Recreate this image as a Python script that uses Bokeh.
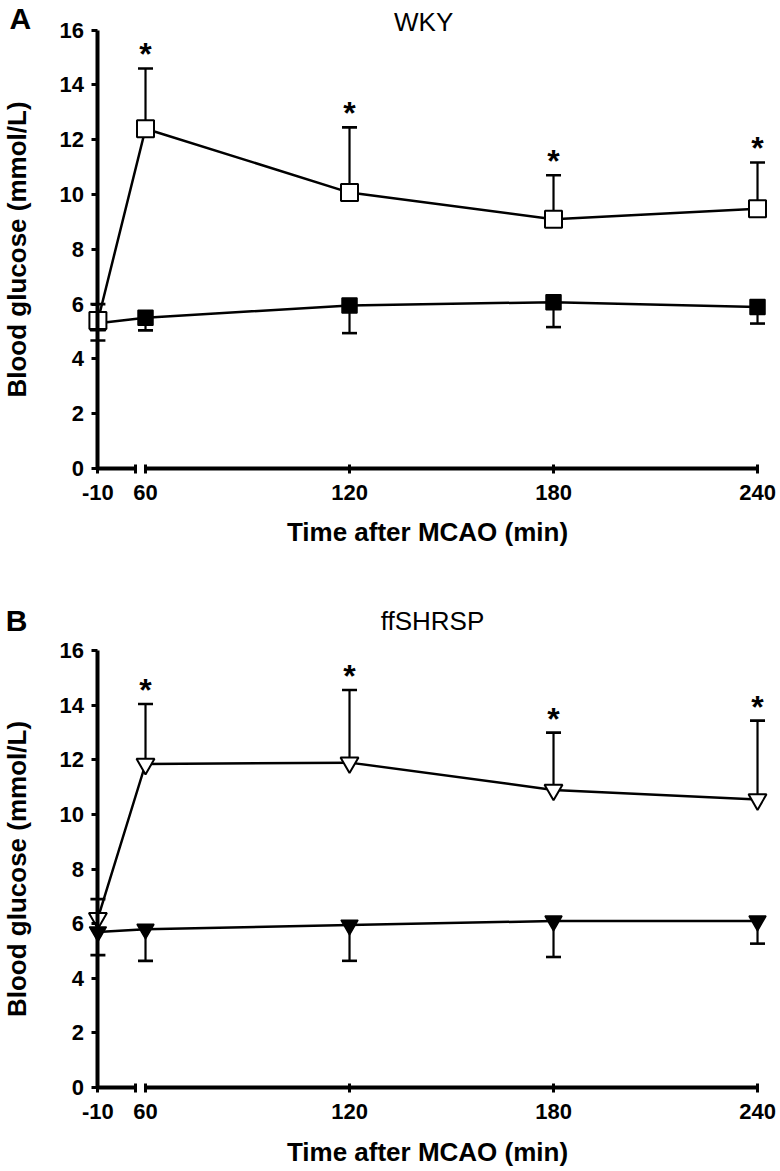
from bokeh.plotting import figure
from bokeh.models import Range1d, LinearAxis, FixedTicker, Label
from bokeh.layouts import column
from bokeh.embed import file_html
from bokeh.resources import INLINE
from bokeh.core.properties import value

# ---------------- data ----------------
TIMES = [-10, 60, 120, 180, 240]
TICK_LABELS = ["-10", "60", "120", "180", "240"]
Y_TICKS = [0, 2, 4, 6, 8, 10, 12, 14, 16]
SIG = ["", "*", "*", "*", "*"]

# Panel A: WKY  (open = upper series, filled = lower series)
WKY_OPEN_MEAN = [5.4, 12.4, 10.07, 9.1, 9.48]
WKY_OPEN_SD = [0.6, 2.2, 2.38, 1.6, 1.69]
WKY_FILLED_MEAN = [5.3, 5.5, 5.95, 6.07, 5.89]
WKY_FILLED_SD = [0.63, 0.46, 1.01, 0.91, 0.6]

# Panel B: ffSHRSP
SHR_OPEN_MEAN = [6.2, 11.85, 11.9, 10.9, 10.55]
SHR_OPEN_SD = [0.7, 2.2, 2.66, 2.1, 2.89]
SHR_FILLED_MEAN = [5.7, 5.8, 5.95, 6.1, 6.1]
SHR_FILLED_SD = [0.85, 1.16, 1.31, 1.32, 0.83]

# ---------------- broken x axis ----------------
BREAK_AT = 60
GAP_FACTOR = 0.2
BREAK_LEFT_END = 57


def xd(t):
    """Display coordinate: the -10..60 interval is compressed (axis break)."""
    if t >= BREAK_AT:
        return float(t)
    return round(BREAK_AT - (BREAK_AT - t) * GAP_FACTOR, 6)


FONT = "Liberation Sans"


def style_axis(ax, tick_in=4, tick_out=5):
    ax.axis_line_width = 4
    ax.axis_line_color = "black"
    ax.major_tick_line_width = 3
    ax.major_tick_line_color = "black"
    ax.major_tick_in = tick_in
    ax.major_tick_out = tick_out
    ax.minor_tick_line_color = None
    ax.major_label_text_font = FONT
    ax.major_label_text_font_style = "bold"
    ax.major_label_text_font_size = "22px"
    ax.major_label_text_color = "black"
    ax.axis_label_text_font = FONT
    ax.axis_label_text_font_style = "bold"
    ax.axis_label_text_font_size = "26px"
    ax.axis_label_text_color = "black"


def make_panel(height, y_start, y_end, open_mean, open_sd, filled_mean, filled_sd,
               open_marker, filled_marker, open_size, filled_size,
               letter, letter_xy, title, title_xy, xlabel_standoff):
    p = figure(width=780, height=height,
               x_range=Range1d(17.35, 246.76), y_range=Range1d(y_start, y_end),
               output_backend="svg", toolbar_location=None,
               x_axis_location=None, y_axis_location=None, min_border=0)
    p.outline_line_color = None
    p.xgrid.visible = False
    p.ygrid.visible = False
    p.background_fill_color = "white"
    p.border_fill_color = "white"

    x0 = xd(TIMES[0])
    xs = [xd(t) for t in TIMES]

    # y axis at t = -10
    yax = LinearAxis(fixed_location=x0, bounds=(0, 16),
                     ticker=FixedTicker(ticks=Y_TICKS),
                     axis_label="Blood glucose (mmol/L)")
    style_axis(yax, tick_in=0, tick_out=6)
    yax.major_label_standoff = 8
    yax.axis_label_standoff = 24
    p.add_layout(yax, "left")

    # x axis: labels + ticks, no line
    xfull = LinearAxis(fixed_location=0, bounds=(x0, xd(TIMES[-1])),
                       ticker=FixedTicker(ticks=xs),
                       major_label_overrides={x: lab for x, lab in zip(xs, TICK_LABELS)},
                       axis_label="Time after MCAO (min)")
    style_axis(xfull)
    xfull.axis_line_color = None
    xfull.major_label_standoff = 12
    xfull.axis_label_standoff = xlabel_standoff
    p.add_layout(xfull, "below")

    # left piece of broken x axis
    xleft = LinearAxis(fixed_location=0, bounds=(x0, BREAK_LEFT_END),
                       ticker=FixedTicker(ticks=[BREAK_LEFT_END]))
    style_axis(xleft)
    xleft.major_label_text_color = None
    p.add_layout(xleft, "below")

    # right piece of broken x axis
    xright = LinearAxis(fixed_location=0, bounds=(BREAK_AT, xd(TIMES[-1])),
                        ticker=FixedTicker(ticks=[]))
    style_axis(xright)
    xright.major_label_text_color = None
    p.add_layout(xright, "below")

    # error bars (one-sided): open series upward, filled series downward
    open_top = [m + s for m, s in zip(open_mean, open_sd)]
    filled_bot = [m - s for m, s in zip(filled_mean, filled_sd)]
    p.segment(x0=xs, y0=open_mean, x1=xs, y1=open_top, line_color="black", line_width=2.2)
    p.segment(x0=xs, y0=filled_mean, x1=xs, y1=filled_bot, line_color="black", line_width=2.2)
    p.scatter(x=xs, y=open_top, marker="dash", size=15, line_color="black", line_width=2.6)
    p.scatter(x=xs, y=filled_bot, marker="dash", size=15, line_color="black", line_width=2.6)

    # lines
    p.line(xs, filled_mean, line_color="black", line_width=2.5)
    p.line(xs, open_mean, line_color="black", line_width=2.5)

    # markers
    p.scatter(x=xs, y=filled_mean, marker=filled_marker, size=filled_size,
              fill_color="black", line_color="black", line_width=1.5)
    p.scatter(x=xs, y=open_mean, marker=open_marker, size=open_size,
              fill_color="white", line_color="black", line_width=2)

    # significance stars
    p.text(x=xs, y=open_top, text=SIG, text_font=value(FONT), text_font_size="32px",
           text_font_style="bold", text_align="center", text_baseline="alphabetic",
           y_offset=-14, text_color="black")

    p.add_layout(Label(x=letter_xy[0], y=letter_xy[1], text=letter, text_font=FONT,
                       text_font_size="30px", text_font_style="bold",
                       text_align="center", text_baseline="middle", text_color="black"))
    p.add_layout(Label(x=title_xy[0], y=title_xy[1], text=title, text_font=FONT,
                       text_font_size="26px", text_align="center",
                       text_baseline="middle", text_color="black"))
    return p


pA = make_panel(578, -4.015, 17.08, WKY_OPEN_MEAN, WKY_OPEN_SD, WKY_FILLED_MEAN, WKY_FILLED_SD,
                "square", "square", 17, 15, "A", (23.2, 16.42), "WKY", (141.8, 16.3), 13)
pB = make_panel(593, -3.077, 18.645, SHR_OPEN_MEAN, SHR_OPEN_SD, SHR_FILLED_MEAN, SHR_FILLED_SD,
                "inverted_triangle", "inverted_triangle", 18, 17, "B", (22.1, 17.1),
                "ffSHRSP", (144.4, 17.1), 14)

layout = column(pA, pB, spacing=0)
open("out.html", "w").write(file_html(layout, INLINE))
